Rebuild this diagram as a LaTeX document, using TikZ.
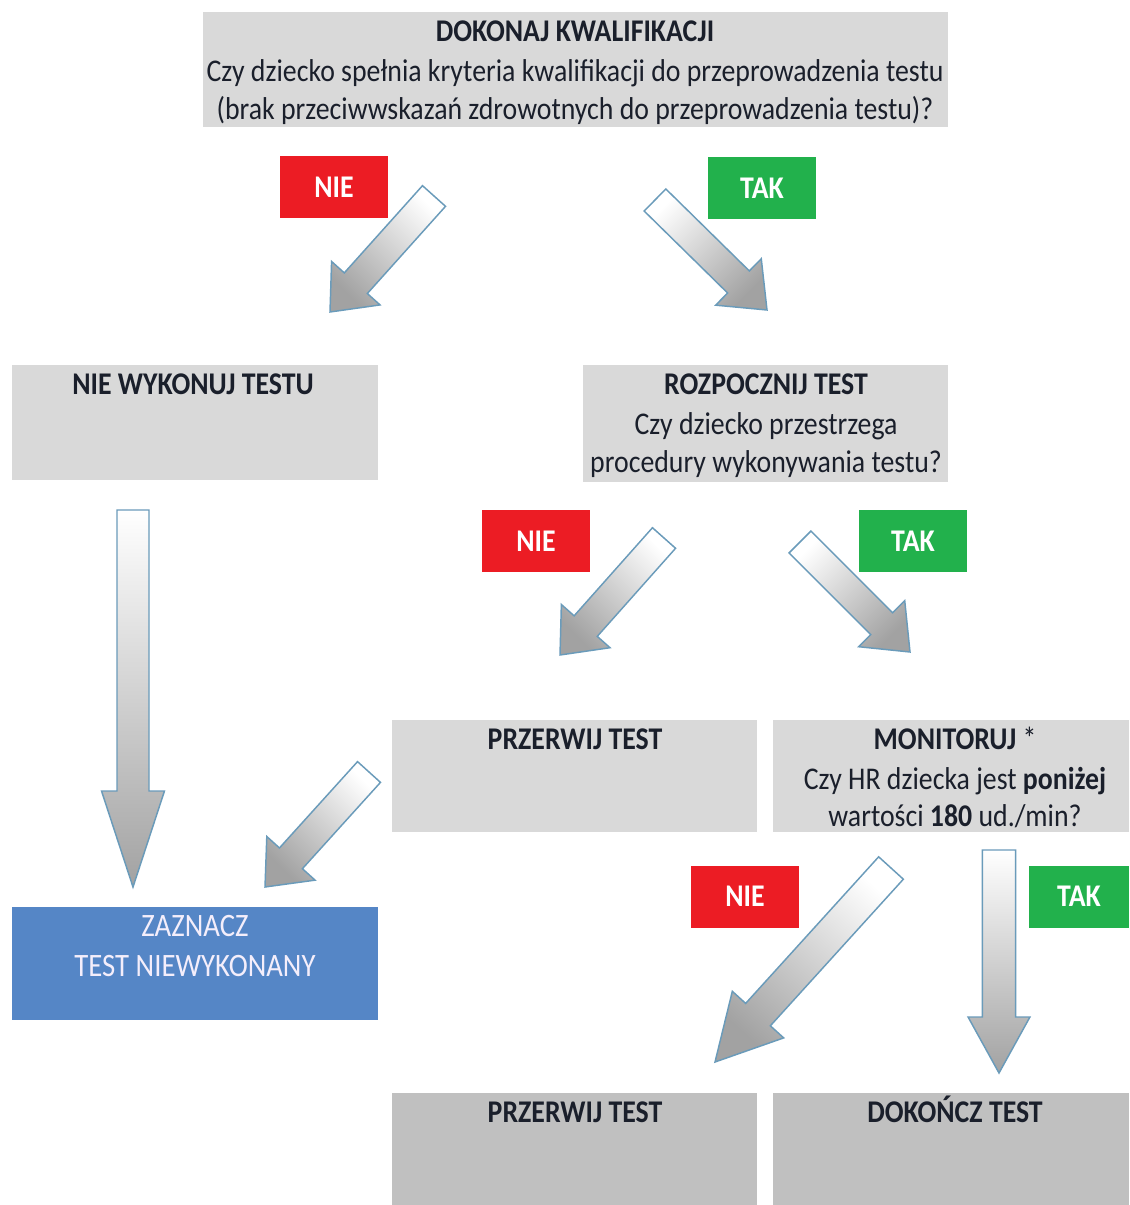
\documentclass[tikz,border=0pt]{standalone}
\usepackage{fontspec}
\setmainfont{Carlito}[FakeStretch=0.88]
\usetikzlibrary{calc}
\definecolor{boxgray}{HTML}{D9D9D9}
\definecolor{boxdark}{HTML}{C0C0C0}
\definecolor{nored}{HTML}{EC1C24}
\definecolor{yesgreen}{HTML}{22B14C}
\definecolor{zblue}{HTML}{5586C6}
\definecolor{arrowedge}{HTML}{6A9BBA}
\definecolor{arrowgray}{HTML}{A2A2A2}
\definecolor{txtc}{HTML}{1A1F2B}
\definecolor{ztxt}{HTML}{F4EEFB}
\newcommand{\blockarrow}[6]{% tail, tip, shaft half, head half, head length, shading angle
  \path[arr, shading angle=#6]
    ($(#1)!#3!90:(#2)$) --
    ($($(#2)!#5!(#1)$)!#3!-90:(#1)$) --
    ($($(#2)!#5!(#1)$)!#4!-90:(#1)$) --
    (#2) --
    ($($(#2)!#5!(#1)$)!#4!90:(#1)$) --
    ($($(#2)!#5!(#1)$)!#3!90:(#1)$) --
    ($(#1)!#3!-90:(#2)$) -- cycle;
}
\begin{document}
\begin{tikzpicture}[x=0.75pt,y=-0.75pt,
  box/.style={draw=none, fill=boxgray, inner sep=0, anchor=north west},
  dbox/.style={box, fill=boxdark},
  bbox/.style={box, fill=zblue},
  sz/.style 2 args={minimum width=#1*0.75pt, minimum height=#2*0.75pt},
  ttl/.style={font=\fontsize{23.7}{28}\selectfont\bfseries, text=txtc, inner sep=0, anchor=base},
  qtxt/.style={font=\fontsize{23.7}{28}\selectfont, text=txtc, inner sep=0, anchor=base},
  ztx/.style={font=\fontsize{24.5}{28}\selectfont, text=ztxt, inner sep=0, anchor=base},
  lab/.style={inner sep=0, font=\fontsize{23.7}{28}\selectfont\bfseries, text=white, minimum width=108*0.75pt, minimum height=62*0.75pt},
  nie/.style={lab, fill=nored},
  tak/.style={lab, fill=yesgreen},
  arr/.style={draw=arrowedge, line width=1.1pt, line join=miter, top color=white, bottom color=arrowgray},
]
\useasboundingbox (0,0) rectangle (1129,1205);
\fill[white] (0,0) rectangle (1129,1205);

% boxes
\node[box, sz={745}{115}] (q1) at (203,12) {};
\node[ttl] (q1a) at (575,42) {DOKONAJ KWALIFIKACJI};
\node[qtxt] (q1b) at (575,82) {Czy dziecko spełnia kryteria kwalifikacji do przeprowadzenia testu};
\node[qtxt] (q1c) at (575,120) {(brak przeciwwskazań zdrowotnych do przeprowadzenia testu)?};

\node[box, sz={366}{115}] (b1) at (12,365) {};
\node[ttl] (b1a) at (193,394) {NIE WYKONUJ TESTU};

\node[box, sz={365}{117}] (b2) at (583,365) {};
\node[ttl] (b2a) at (766,394) {ROZPOCZNIJ TEST};
\node[qtxt] (b2b) at (766,434) {Czy dziecko przestrzega};
\node[qtxt] (b2c) at (766,472) {procedury wykonywania testu?};

\node[box, sz={365}{112}] (b3) at (392,720) {};
\node[ttl] (b3a) at (575,749) {PRZERWIJ TEST};

\node[box, sz={356}{112}] (b4) at (773,720) {};
\node[ttl] (b4a) at (955,749) {MONITORUJ \textmd{*}};
\node[qtxt] (b4b) at (955,789) {Czy HR dziecka jest \textbf{poniżej}};
\node[qtxt] (b4c) at (955,826) {wartości \textbf{180} ud./min?};

\node[bbox, sz={366}{113}] (b5) at (12,907) {};
\node[ztx] (b5a) at (195,936) {ZAZNACZ};
\node[ztx] (b5b) at (195,976) {TEST NIEWYKONANY};

\node[dbox, sz={365}{112}] (b6) at (392,1093) {};
\node[ttl] (b6a) at (575,1122) {PRZERWIJ TEST};

\node[dbox, sz={356}{112}] (b7) at (773,1093) {};
\node[ttl] (b7a) at (955,1122) {DOKOŃCZ TEST};

% labels
\node[nie] (n1) at (334,187.5) {NIE};
\node[tak] (t1) at (762,188) {TAK};
\node[nie] (n2) at (536,541) {NIE};
\node[tak] (t2) at (913,541) {TAK};
\node[nie] (n3) at (745,896.5) {NIE};
\node[tak, minimum width=100*0.75pt] (t3) at (1079,896.5) {TAK};

% arrow end points
\coordinate (a1s) at (434,196); \coordinate (a1e) at (330,312);
\coordinate (a2s) at (655,200); \coordinate (a2e) at (767,310);
\coordinate (a3s) at (664,538); \coordinate (a3e) at (560,655);
\coordinate (a4s) at (800,542); \coordinate (a4e) at (910,652);
\coordinate (a5s) at (369,772); \coordinate (a5e) at (265,887);
\coordinate (a6s) at (891,868); \coordinate (a6e) at (715,1062);
\coordinate (v1s) at (133,510); \coordinate (v1e) at (133,887);
\coordinate (v2s) at (999,850); \coordinate (v2e) at (999,1073);

\blockarrow{a1s}{a1e}{11.6pt}{24.4pt}{29pt}{-45}
\blockarrow{a2s}{a2e}{11.6pt}{24.4pt}{30pt}{45}
\blockarrow{a3s}{a3e}{11.6pt}{24.4pt}{29pt}{-45}
\blockarrow{a4s}{a4e}{11.6pt}{24.4pt}{30pt}{45}
\blockarrow{a5s}{a5e}{11.6pt}{24.4pt}{29pt}{-45}
\blockarrow{a6s}{a6e}{12.5pt}{26pt}{48pt}{-42}
\blockarrow{v1s}{v1e}{12pt}{23.6pt}{72pt}{0}
\blockarrow{v2s}{v2e}{12.4pt}{23.2pt}{42pt}{0}
\end{tikzpicture}
\end{document}
